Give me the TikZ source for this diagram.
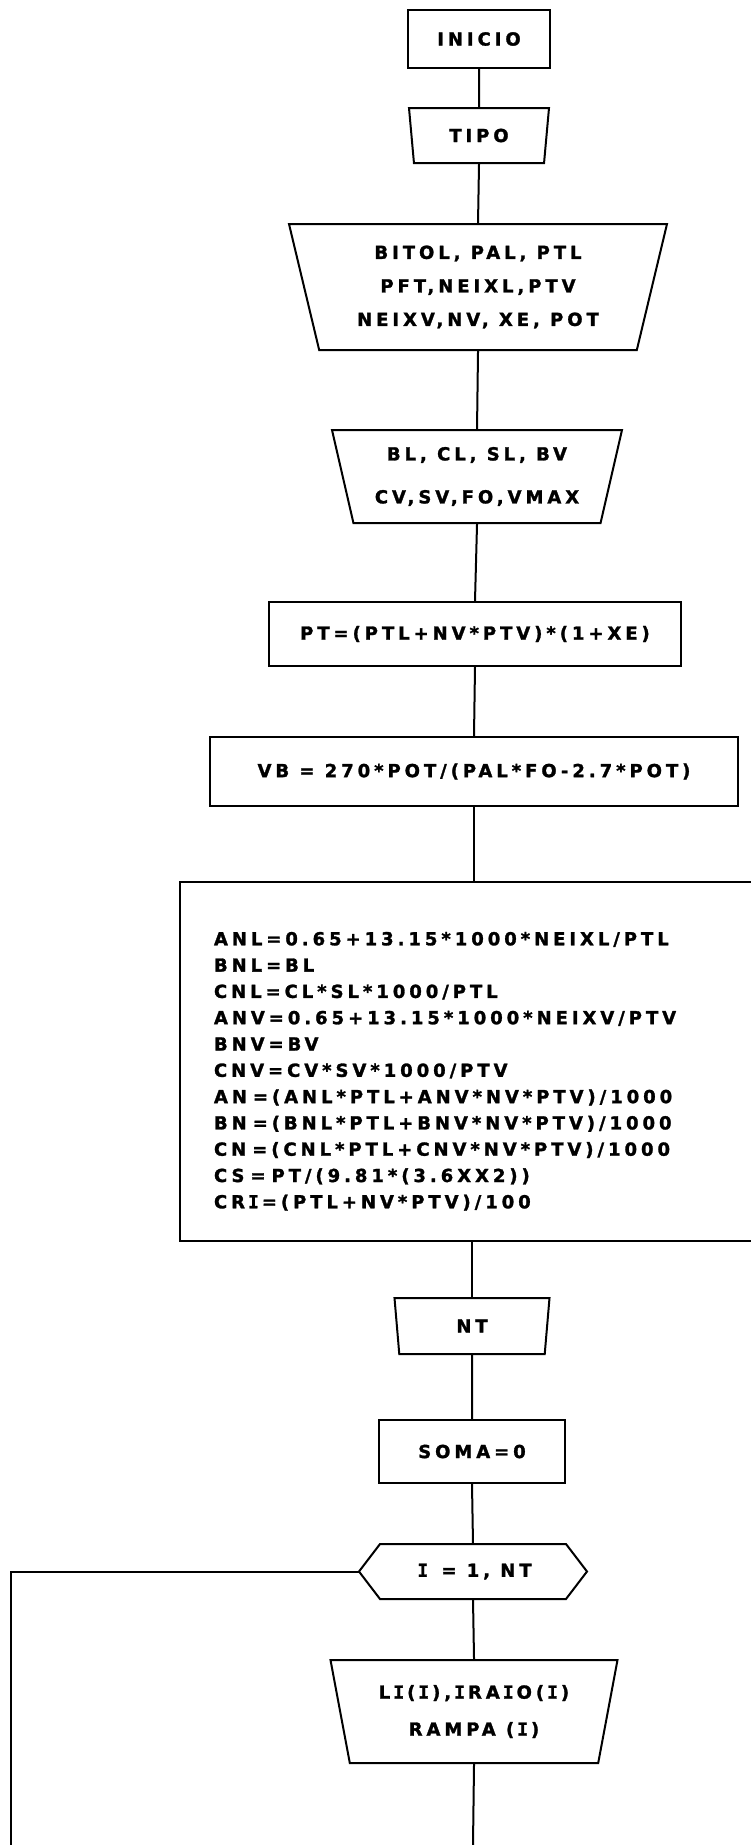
\documentclass[tikz,border=0pt]{standalone}
\usepackage{fontspec}
\newfontfamily\lettering[LetterSpace=22, FakeBold=1.5]{DejaVu Sans Bold}
\newfontfamily\letteringmono[FakeBold=1.5]{DejaVu Sans Mono Bold}
\usepackage{tikz}
\usetikzlibrary{shapes.geometric}
\newcommand{\lett}[1]{\lettering\fontsize{18}{#1}\selectfont}
\newcommand{\Iser}{\kern3pt{\letteringmono I}\kern3pt}

\begin{document}
\begin{tikzpicture}[x=1pt, y=-1pt, line width=2pt,
  every node/.style={font=\lett{21}},
  proc/.style={draw, rectangle, inner sep=0pt},
  inpt/.style={draw, trapezium, shape border rotate=180, trapezium left angle=70,
    trapezium right angle=70, trapezium stretches body, inner sep=0pt, align=center}]
  \useasboundingbox (0,0) rectangle (750,1845);
  \node[proc, minimum width=142, minimum height=58] (inicio) at (479,39) {INICIO};
  \node[inpt, minimum width=140, minimum height=55] (tipo) at (479,135.5) {TIPO};
  \node[inpt, minimum width=378, minimum height=126, font=\lett{33.5}] (dados) at (478,287)
    {BITOL, PAL, PTL\\PFT,NEIXL,PTV\\NEIXV,NV, XE, POT};
  \node[inpt, minimum width=290, minimum height=93, font=\lett{43}] (coef) at (477,476.5)
    {BL, CL, SL, BV\\CV,SV,FO,VMAX};
  \node[proc, minimum width=412, minimum height=64] (pt) at (475,634) {PT=(PTL+NV*PTV)*(1+XE)};
  \node[proc, minimum width=528, minimum height=69] (vb) at (474,771.5) {VB = 270*POT/(PAL*FO-2.7*POT)};
  \node[proc, anchor=north west, minimum height=359, text width=533, inner xsep=34,
    align=left, font=\lett{26.3}] (calc) at (179,881)
    {\rule{0pt}{33pt}ANL=0.65+13.15*1000*NEIXL/PTL\\
     BNL=BL\\
     CNL=CL*SL*1000/PTL\\
     ANV=0.65+13.15*1000*NEIXV/PTV\\
     BNV=BV\\
     CNV=CV*SV*1000/PTV\\
     AN =(ANL*PTL+ANV*NV*PTV)/1000\\
     BN =(BNL*PTL+BNV*NV*PTV)/1000\\
     CN =(CNL*PTL+CNV*NV*PTV)/1000\\
     CS = PT/(9.81*(3.6XX2))\\
     CR\Iser=(PTL+NV*PTV)/100};
  \node[inpt, minimum width=155, minimum height=56] (nt) at (472,1326) {NT};
  \node[proc, minimum width=186, minimum height=63] (soma) at (472,1451.5) {SOMA=0};
  \node[minimum width=226, minimum height=53, inner sep=0pt] (laco) at (473,1571.5) {\Iser{} = 1, NT};
  \draw (laco.west) -- ([xshift=21pt]laco.north west) -- ([xshift=-21pt]laco.north east)
    -- (laco.east) -- ([xshift=-21pt]laco.south east) -- ([xshift=21pt]laco.south west) -- cycle;
  \node[inpt, minimum width=287, minimum height=103, font=\lett{37}] (leit) at (474,1711.5)
    {L\Iser(\Iser),\Iser RA\Iser O(\Iser)\\RAMPA (\Iser)};
  \coordinate (fim) at (473,1845);
  \coordinate (volta) at (10.5,1845);
  % fluxo
  \draw (inicio.south) -- (tipo.north);
  \draw (tipo.south) -- (dados.north);
  \draw (dados.south) -- (coef.north);
  \draw (coef.south) -- (pt.north);
  \draw (pt.south) -- (vb.north);
  \draw (vb.south) -- (vb.south |- calc.north);
  \draw (nt.north |- calc.south) -- (nt.north);
  \draw (nt.south) -- (soma.north);
  \draw (soma.south) -- (laco.north);
  \draw (laco.south) -- (leit.north);
  \draw (leit.south) -- (fim);
  \draw (laco.west) -| (volta);
\end{tikzpicture}
\end{document}
